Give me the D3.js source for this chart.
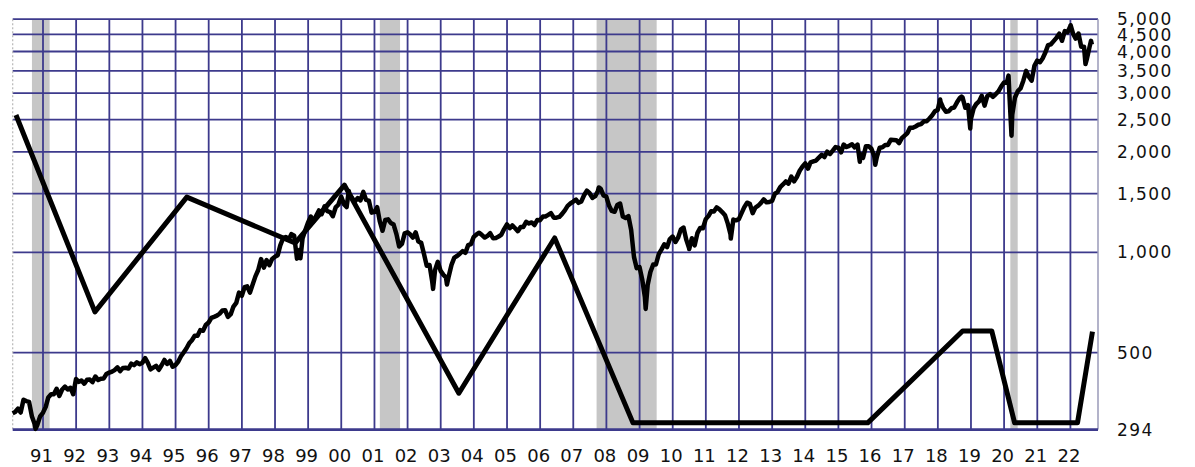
<!DOCTYPE html>
<html>
<head>
<meta charset="utf-8">
<script src="https://cdn.jsdelivr.net/npm/d3@7"></script>
<style>
  html, body { margin: 0; padding: 0; background: #fff; }
  svg { display: block; }
  .axis-label { font-family: "DejaVu Sans", Verdana, sans-serif; fill: #111; }
</style>
</head>
<body>
<svg width="1195" height="467"></svg>
<script>
// S&P 500 monthly closes, one row per year starting 1990 (2022 runs to July)
var spxFirstYear = 1990;
var spxMonthly = [
  [329.1, 331.9, 339.9, 330.8, 361.2, 358.0, 356.2, 322.6, 306.1, 304.0, 322.2, 330.2],
  [343.9, 367.1, 375.2, 375.3, 389.8, 371.2, 387.8, 395.4, 387.9, 392.5, 375.2, 417.1],
  [408.8, 412.7, 403.7, 414.9, 415.4, 408.1, 424.2, 414.0, 417.8, 418.7, 431.4, 435.7],
  [438.8, 443.4, 451.7, 440.2, 450.2, 450.5, 448.1, 463.6, 458.9, 467.8, 461.8, 466.5],
  [481.6, 467.1, 445.8, 450.9, 456.5, 444.3, 458.3, 475.5, 462.7, 472.4, 453.7, 459.3],
  [470.4, 487.4, 500.7, 514.7, 533.4, 544.8, 562.1, 561.9, 584.4, 581.5, 605.4, 615.9],
  [636.0, 640.4, 645.5, 654.2, 669.1, 670.6, 639.9, 652.0, 687.3, 705.3, 757.0, 740.7],
  [786.2, 790.8, 757.1, 801.3, 848.3, 885.1, 954.3, 899.5, 947.3, 914.6, 955.4, 970.4],
  [980.3, 1049.3, 1101.8, 1111.8, 1090.8, 1133.8, 1120.7, 957.3, 1017.0, 1098.7, 1163.6, 1229.2],
  [1279.6, 1238.3, 1286.4, 1335.2, 1301.8, 1372.7, 1328.7, 1320.4, 1282.7, 1362.9, 1388.9, 1469.3],
  [1394.5, 1366.4, 1498.6, 1452.4, 1420.6, 1454.6, 1430.8, 1517.7, 1436.5, 1429.4, 1315.2, 1320.3],
  [1366.0, 1239.9, 1160.3, 1249.5, 1255.8, 1224.4, 1211.2, 1133.6, 1040.9, 1059.8, 1139.5, 1148.1],
  [1130.2, 1106.7, 1147.4, 1076.9, 1067.1, 989.8, 911.6, 916.1, 815.3, 885.8, 936.3, 879.8],
  [855.7, 841.2, 848.2, 916.9, 963.6, 974.5, 990.3, 1008.0, 996.0, 1050.7, 1058.2, 1111.9],
  [1131.1, 1144.9, 1126.2, 1107.3, 1120.7, 1140.8, 1101.7, 1104.2, 1114.6, 1130.2, 1173.8, 1211.9],
  [1181.3, 1203.6, 1180.6, 1156.9, 1191.5, 1191.3, 1234.2, 1220.3, 1228.8, 1207.0, 1249.5, 1248.3],
  [1280.1, 1280.7, 1294.9, 1310.6, 1270.1, 1270.2, 1276.7, 1303.8, 1335.9, 1377.9, 1400.6, 1418.3],
  [1438.2, 1406.8, 1420.9, 1482.4, 1530.6, 1503.4, 1455.3, 1474.0, 1526.8, 1549.4, 1481.1, 1468.4],
  [1378.6, 1330.6, 1322.7, 1385.6, 1400.4, 1280.0, 1267.4, 1282.8, 1166.4, 968.8, 896.2, 903.3],
  [825.9, 735.1, 797.9, 872.8, 919.1, 919.3, 987.5, 1020.6, 1057.1, 1036.2, 1095.6, 1115.1],
  [1073.9, 1104.5, 1169.4, 1186.7, 1089.4, 1030.7, 1101.6, 1049.3, 1141.2, 1183.3, 1180.6, 1257.6],
  [1286.1, 1327.2, 1325.8, 1363.6, 1345.2, 1320.6, 1292.3, 1218.9, 1131.4, 1253.3, 1247.0, 1257.6],
  [1312.4, 1365.7, 1408.5, 1397.9, 1310.3, 1362.2, 1379.3, 1406.6, 1440.7, 1412.2, 1416.2, 1426.2],
  [1498.1, 1514.7, 1569.2, 1597.6, 1630.7, 1606.3, 1685.7, 1633.0, 1681.6, 1756.5, 1805.8, 1848.4],
  [1782.6, 1859.5, 1872.3, 1883.9, 1923.6, 1960.2, 1930.7, 2003.4, 1972.3, 2018.1, 2067.6, 2058.9],
  [1995.0, 2104.5, 2067.9, 2085.5, 2107.4, 2063.1, 2103.8, 1972.2, 1920.0, 2079.4, 2080.4, 2043.9],
  [1940.2, 1932.2, 2059.7, 2065.3, 2096.9, 2098.9, 2173.6, 2171.0, 2168.3, 2126.2, 2198.8, 2238.8],
  [2278.9, 2363.6, 2362.7, 2384.2, 2411.8, 2423.4, 2470.3, 2471.7, 2519.4, 2575.3, 2647.6, 2673.6],
  [2823.8, 2713.8, 2640.9, 2648.1, 2705.3, 2718.4, 2816.3, 2901.5, 2914.0, 2711.7, 2760.2, 2506.9],
  [2704.1, 2784.5, 2834.4, 2945.8, 2752.1, 2941.8, 2980.4, 2926.5, 2976.7, 3037.6, 3141.0, 3230.8],
  [3225.5, 2954.2, 2584.6, 2912.4, 3044.3, 3100.3, 3271.1, 3500.3, 3363.0, 3270.0, 3621.6, 3756.1],
  [3714.2, 3811.2, 3972.9, 4181.2, 4204.1, 4297.5, 4395.3, 4522.7, 4307.5, 4605.4, 4567.0, 4766.2],
  [4515.6, 4373.9, 4530.4, 4131.9, 4132.2, 3785.4, 4130.3]
];
// intra-month turning points visible in the picture
var spxExtremes = [
  ["1990-10-11", 295.5], ["1998-10-08", 959.4], ["2000-03-24", 1527.5],
  ["2002-10-09", 776.8], ["2003-03-11", 800.7], ["2007-10-09", 1565.2],
  ["2009-03-09", 676.5], ["2010-07-02", 1022.6], ["2011-10-03", 1099.2],
  ["2015-08-25", 1867.6], ["2016-02-11", 1829.1], ["2018-01-26", 2872.9],
  ["2018-09-20", 2930.8], ["2018-12-24", 2351.1], ["2020-02-19", 3386.2],
  ["2020-03-23", 2237.4], ["2022-01-03", 4796.6], ["2022-06-16", 3666.8],
  ["2022-08-16", 4305.2], ["2022-08-25", 4199.1]
];

// the heavy zig-zag line
var zigDates = ["1990-03-09", "1992-07-26", "1995-05-05", "1998-08-10", "2000-02-05",
                "2003-07-20", "2006-06-10", "2008-10-20", "2015-11-20", "2018-10-01",
                "2019-08-18", "2020-04-26", "2022-03-20", "2022-09-01"];
var zigValues = [2580, 663, 1464, 1066, 1590, 378, 1104, 308, 308, 581, 581, 308, 308, 578];

// grey recession bands
var recessions = [["1990-09-01", "1991-03-15"], ["2001-03-01", "2001-10-10"],
                  ["2007-09-15", "2009-07-08"], ["2020-03-10", "2020-05-30"]];

var priceTicks = [5000, 4500, 4000, 3500, 3000, 2500, 2000, 1500, 1000, 500, 294];
var gridValues = [500, 1000, 1500, 2000, 2500, 3000, 3500, 4000, 4500, 5000];
var yearTicks = d3.range(1991, 2023);

var parse = d3.timeParse("%Y-%m-%d");

var svg = d3.select("svg");
var plotLeft = 12.7, plotRight = 1098, plotTop = 19.2, plotBottom = 429.6;

var x = d3.scaleTime()
    .domain([new Date(1990, 1, 1), new Date(2022, 10, 1)])
    .range([plotLeft, plotRight]);
var y = d3.scaleLog()
    .domain([294, 5000])
    .range([plotBottom, plotTop]);

// build the price series
var spx = [];
spxMonthly.forEach(function(row, i) {
  row.forEach(function(v, m) {
    spx.push({date: new Date(spxFirstYear + i, m + 1, 0), value: v});
  });
});
spxExtremes.forEach(function(d) {
  spx.push({date: parse(d[0]), value: d[1]});
});
spx.sort(function(a, b) { return a.date - b.date; });

var zig = zigDates.map(function(d, i) { return {date: parse(d), value: zigValues[i]}; });

// recession shading
svg.append("g")
  .selectAll("rect")
  .data(recessions)
  .enter().append("rect")
    .attr("x", function(d) { return x(parse(d[0])); })
    .attr("y", plotTop)
    .attr("width", function(d) { return x(parse(d[1])) - x(parse(d[0])); })
    .attr("height", plotBottom - plotTop)
    .attr("fill", "#c6c6c6");

// grid
var gridColor = "#3d3a8c";
svg.append("g")
  .selectAll("line")
  .data(yearTicks)
  .enter().append("line")
    .attr("x1", function(d) { return x(new Date(d, 0, 1)); })
    .attr("x2", function(d) { return x(new Date(d, 0, 1)); })
    .attr("y1", plotTop)
    .attr("y2", plotBottom)
    .attr("stroke", gridColor)
    .attr("stroke-width", 1.8);

svg.append("g")
  .selectAll("line")
  .data(gridValues)
  .enter().append("line")
    .attr("x1", plotLeft)
    .attr("x2", plotRight)
    .attr("y1", function(d) { return y(d); })
    .attr("y2", function(d) { return y(d); })
    .attr("stroke", gridColor)
    .attr("stroke-width", 1.8);

// frame
svg.append("line")
    .attr("x1", plotLeft).attr("x2", plotLeft).attr("y1", plotTop).attr("y2", plotBottom)
    .attr("stroke", "#b8b8b8").attr("stroke-width", 1.2).attr("stroke-dasharray", "2,2");
svg.append("line")
    .attr("x1", plotRight).attr("x2", plotRight).attr("y1", plotTop).attr("y2", plotBottom)
    .attr("stroke", "#9a9ab8").attr("stroke-width", 1.5);
svg.append("line")
    .attr("x1", plotLeft).attr("x2", plotRight).attr("y1", plotBottom).attr("y2", plotBottom)
    .attr("stroke", gridColor).attr("stroke-width", 2.6);

var line = d3.line()
    .x(function(d) { return x(d.date); })
    .y(function(d) { return y(d.value); });

svg.append("path")
    .datum(spx)
    .attr("d", line)
    .attr("fill", "none")
    .attr("stroke", "#000")
    .attr("stroke-width", 4.5)
    .attr("stroke-linejoin", "round");

svg.append("path")
    .datum(zig)
    .attr("d", line)
    .attr("fill", "none")
    .attr("stroke", "#000")
    .attr("stroke-width", 5)
    .attr("stroke-linejoin", "round");

// right-hand price labels
svg.append("g")
  .selectAll("text")
  .data(priceTicks)
  .enter().append("text")
    .attr("class", "axis-label")
    .attr("x", 1117)
    .attr("y", function(d) { return y(d); })
    .attr("dy", "0.36em")
    .style("font-size", "17px")
    .style("letter-spacing", "1.4px")
    .text(function(d) { return d3.format(",")(d); });

// year labels
svg.append("g")
  .selectAll("text")
  .data(yearTicks)
  .enter().append("text")
    .attr("class", "axis-label")
    .attr("x", function(d) { return x(new Date(d, 0, 1)) - 1.5; })
    .attr("y", 456)
    .attr("dy", "0.36em")
    .attr("text-anchor", "middle")
    .style("font-size", "18px")
    .text(function(d) { return String(d).slice(2); });
</script>
</body>
</html>
